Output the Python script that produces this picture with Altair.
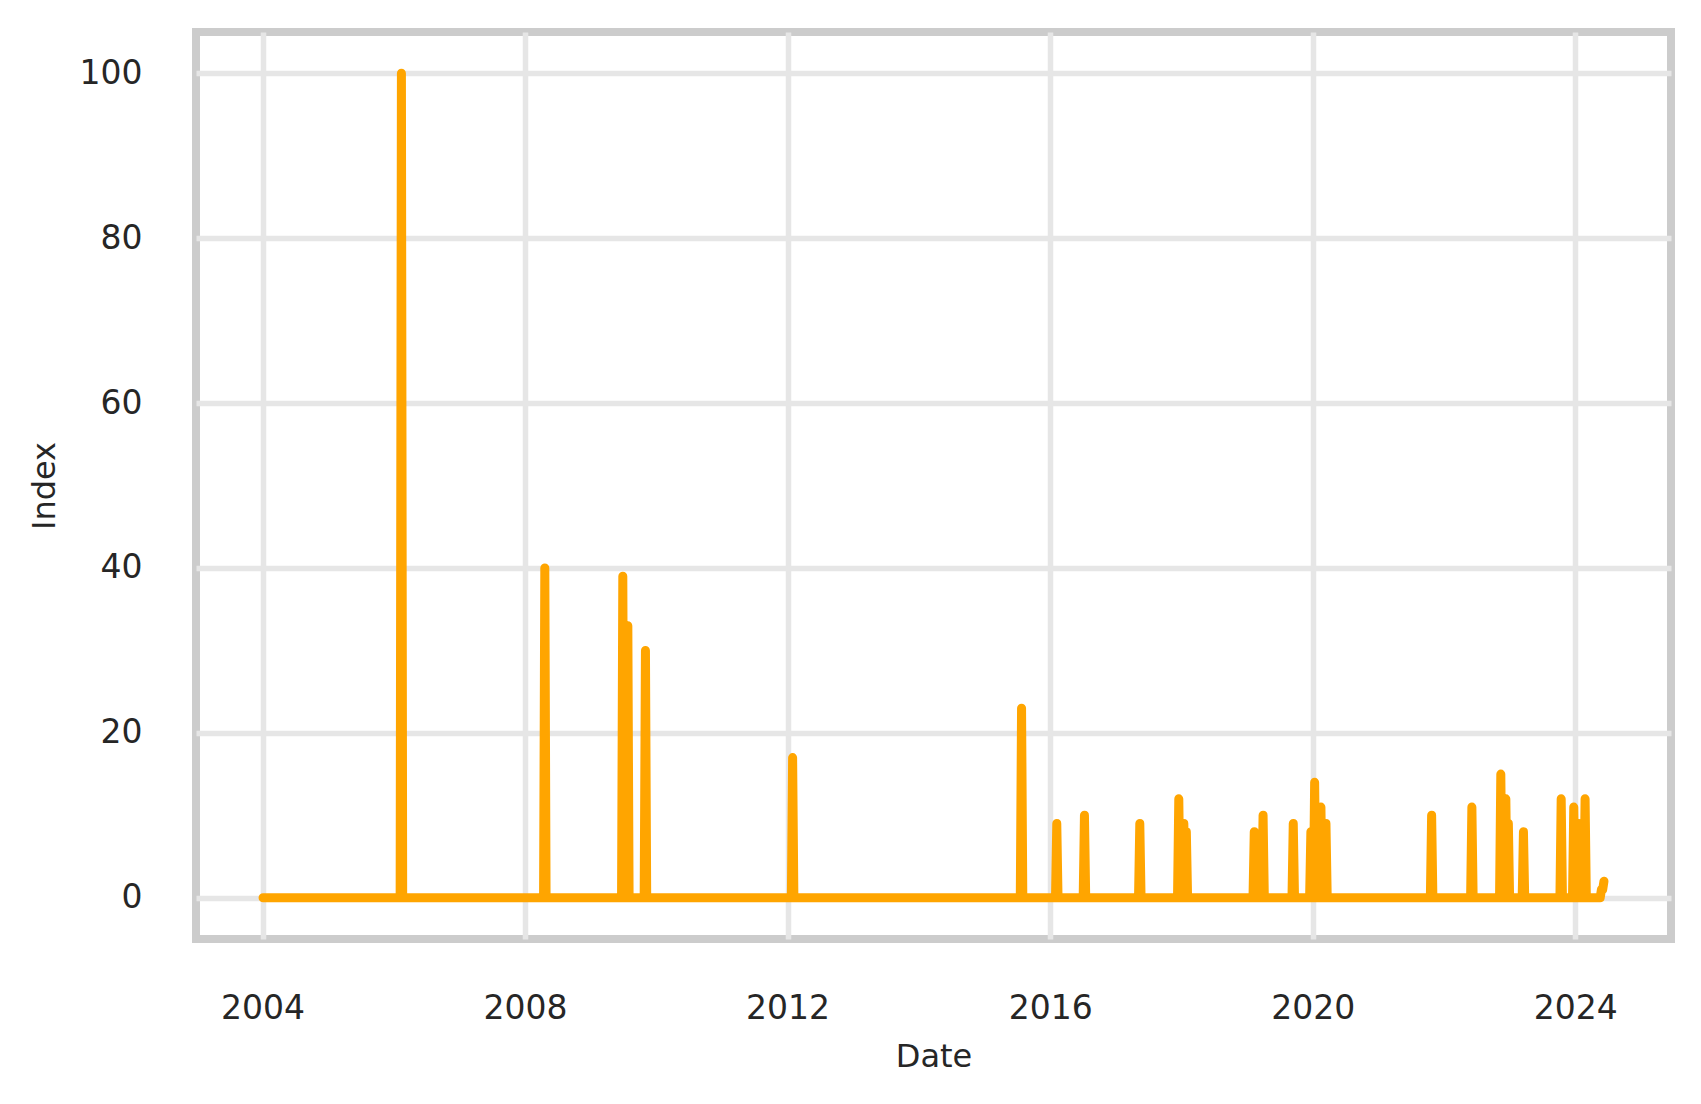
import altair as alt
import numpy as np
import pandas as pd

# Weekly series (Sundays) from start to end; every week not listed below reads as 0
start_date = "2004-01-04"
end_date = "2024-06-09"

spike_dates = [
    "2006-02-12", "2008-04-20", "2009-06-28", "2009-07-26", "2009-11-01",
    "2012-01-29", "2015-07-26", "2016-02-07", "2016-07-10", "2017-05-14",
    "2017-12-17", "2018-01-14", "2018-01-28", "2019-02-10", "2019-03-31",
    "2019-09-15", "2019-12-22", "2020-01-12", "2020-02-16", "2020-03-15",
    "2021-10-24", "2022-06-05", "2022-11-13", "2022-12-11", "2022-12-25",
    "2023-03-19", "2023-10-15", "2023-12-24", "2024-01-21", "2024-02-25",
    "2024-05-26", "2024-06-02", "2024-06-09",
]
spike_values = [
    100, 40, 39, 33, 30,
    17, 23, 9, 10, 9,
    12, 9, 8, 8, 10,
    9, 8, 14, 11, 9,
    10, 11, 15, 12, 9,
    8, 12, 11, 9, 12,
    1, 1, 2,
]

x_tick_years = [2004, 2008, 2012, 2016, 2020, 2024]
y_tick_values = [0, 20, 40, 60, 80, 100]

dates = pd.date_range(start_date, end_date, freq="7D")
values = np.zeros(len(dates), dtype=int)
idx = dates.get_indexer(pd.to_datetime(spike_dates), method="nearest")
values[idx] = spike_values

df = pd.DataFrame({"Date": dates.strftime("%Y-%m-%d"), "Index": values})

t0 = pd.Timestamp(start_date).value // 10**6
t1 = pd.Timestamp(end_date).value // 10**6
span = t1 - t0
x_domain = [t0 - 0.05 * span, t1 + 0.05 * span]

TEXT = "#262626"
FONT = "DejaVu Sans"

chart = (
    alt.Chart(df)
    .mark_line(color="#FFA500", strokeWidth=9, strokeCap="round", strokeJoin="round")
    .encode(
        x=alt.X(
            "Date:T",
            scale=alt.Scale(type="utc", domain=x_domain, nice=False),
            axis=alt.Axis(
                values=[alt.DateTime(year=y, month=1, date=1, utc=True) for y in x_tick_years],
                format="%Y",
                formatType="utc",
                title="Date",
                labelPadding=53,
                titlePadding=16,
            ),
        ),
        y=alt.Y(
            "Index:Q",
            scale=alt.Scale(domain=[-5, 105], nice=False, zero=False),
            axis=alt.Axis(
                values=y_tick_values,
                title="Index",
                labelPadding=54,
                titlePadding=18,
            ),
        ),
    )
    .properties(
        width=1475,
        height=907,
        padding={"left": 188, "top": 24, "right": 22, "bottom": 150},
        autosize=alt.AutoSizeParams(type="none"),
    )
    .configure_view(stroke="#cccccc", strokeWidth=8)
    .configure_axis(
        grid=True,
        gridColor="#e6e6e6",
        gridWidth=5.5,
        domain=False,
        ticks=False,
        tickSize=0,
        labelFont=FONT,
        labelFontSize=33,
        labelColor=TEXT,
        titleFont=FONT,
        titleFontSize=32,
        titleFontWeight="normal",
        titleColor=TEXT,
    )
)

chart.save("out.html", embed_options={"renderer": "svg", "actions": False})
